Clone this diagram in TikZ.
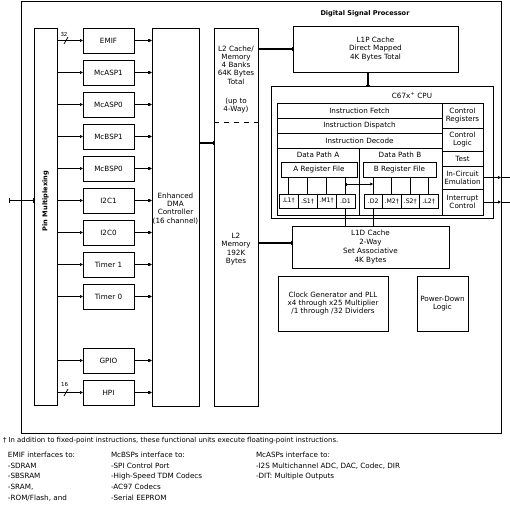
\documentclass[tikz,border=0pt]{standalone}
\usepackage{fontspec}
\setmainfont{DejaVu Sans}
\usetikzlibrary{arrows.meta,calc}
\begin{document}
\begin{tikzpicture}[x=1pt,y=-1pt,
    every node/.style={font=\fontsize{7.2}{8.3}\selectfont},
    blk/.style={draw,line width=0.8pt,inner sep=0pt,outer sep=0pt,align=center},
    txt/.style={inner sep=0pt,outer sep=0pt,align=center},
    per/.style={blk,minimum width=51pt,minimum height=25pt},
    row/.style={blk,minimum width=165pt,minimum height=15pt},
    ctl/.style={blk,minimum width=41pt},
    fu/.style={blk,minimum height=14pt,font=\fontsize{6.2}{7}\selectfont},
    hdr/.style={txt,font=\fontsize{6.6}{8}\selectfont\bfseries},
    note/.style={txt,anchor=north west,align=left,font=\fontsize{7.2}{10.7}\selectfont},
    wire/.style={line width=0.8pt},
    sig/.style={line width=0.8pt,{Bar[width=3pt]}-{Latex[length=3pt,width=3.5pt]}},
    sigr/.style={line width=0.8pt,-{Bar[width=3pt] Latex[length=3pt,width=3.5pt]}},
    bus/.style={line width=1.6pt,{Bar[width=4.5pt,line width=1pt]}-{Bar[width=4.5pt,line width=1pt]}}
  ]
    \useasboundingbox (0,0) rectangle (510,513);
    \node[blk,minimum width=480pt,minimum height=432pt] (dsp) at (261,217) {};
    \node[hdr] (dsptitle) at (365,14) {Digital Signal Processor};
    \node[blk,minimum width=23pt,minimum height=377pt] (pin) at (45.5,216.5) {};
    \node[hdr,rotate=90] (pintitle) at (45.5,201) {Pin Multiplexing};
    \node[blk,minimum width=47pt,minimum height=378pt] (dma) at (175.5,217) {};
    \node[txt] (dmatxt) at (175.5,208.5) {Enhanced\\DMA\\Controller\\(16 channel)};
    \node[blk,minimum width=44pt,minimum height=378pt] (l2) at (236,217) {};
    \node[txt] (l2top) at (236,65) {L2 Cache/\\Memory\\4 Banks\\64K Bytes\\Total};
    \node[txt] (l2way) at (236,105.5) {(up to\\4-Way)};
    \node[txt] (l2bot) at (236,249) {L2\\Memory\\192K\\Bytes};
    \coordinate (l2cut) at (236,122);
    \draw[wire,dash pattern=on 5pt off 5pt] (l2.west |- l2cut) -- (l2.east |- l2cut);

    \node[per] (emif) at (108.5,40.5) {EMIF};
    \node[per] (mcasp1) at (108.5,72.5) {McASP1};
    \node[per] (mcasp0) at (108.5,104.5) {McASP0};
    \node[per] (mcbsp1) at (108.5,136.5) {McBSP1};
    \node[per] (mcbsp0) at (108.5,168.5) {McBSP0};
    \node[per] (iic1) at (108.5,200.5) {I2C1};
    \node[per] (iic0) at (108.5,232.5) {I2C0};
    \node[per] (tmr1) at (108.5,264.5) {Timer 1};
    \node[per] (tmr0) at (108.5,296.5) {Timer 0};
    \node[per] (gpio) at (108.5,360.5) {GPIO};
    \node[per] (hpi) at (108.5,392.5) {HPI};

    \draw[sig] (emif.west -| pin.east) -- (emif.west);
    \draw[sig] (mcasp1.west -| pin.east) -- (mcasp1.west);
    \draw[sig] (mcasp0.west -| pin.east) -- (mcasp0.west);
    \draw[sig] (mcbsp1.west -| pin.east) -- (mcbsp1.west);
    \draw[sig] (mcbsp0.west -| pin.east) -- (mcbsp0.west);
    \draw[sig] (iic1.west -| pin.east) -- (iic1.west);
    \draw[sig] (iic0.west -| pin.east) -- (iic0.west);
    \draw[sig] (tmr1.west -| pin.east) -- (tmr1.west);
    \draw[sig] (tmr0.west -| pin.east) -- (tmr0.west);
    \draw[sig] (gpio.west -| pin.east) -- (gpio.west);
    \draw[sig] (hpi.west -| pin.east) -- (hpi.west);
    \draw[sigr] (emif.east) -- (emif.east -| dma.west);
    \draw[sigr] (mcasp1.east) -- (mcasp1.east -| dma.west);
    \draw[sigr] (mcasp0.east) -- (mcasp0.east -| dma.west);
    \draw[sigr] (mcbsp1.east) -- (mcbsp1.east -| dma.west);
    \draw[sigr] (mcbsp0.east) -- (mcbsp0.east -| dma.west);
    \draw[sigr] (iic1.east) -- (iic1.east -| dma.west);
    \draw[sigr] (iic0.east) -- (iic0.east -| dma.west);
    \draw[sigr] (tmr1.east) -- (tmr1.east -| dma.west);
    \draw[sigr] (tmr0.east) -- (tmr0.east -| dma.west);
    \draw[sigr] (gpio.east) -- (gpio.east -| dma.west);
    \draw[sigr] (hpi.east) -- (hpi.east -| dma.west);

    \coordinate (emifin) at (emif.west -| pin.east);
    \coordinate (hpiin) at (hpi.west -| pin.east);
    \draw[wire] ($(emifin)+(7,3.5)$) -- ++(4,-7);
    \draw[wire] ($(hpiin)+(7,3.5)$) -- ++(4,-7);
    \node[txt,font=\fontsize{5.5}{6}\selectfont] (w32) at (64,34.5) {32};
    \node[txt,font=\fontsize{5.5}{6}\selectfont] (w16) at (64.5,384.5) {16};

    \coordinate (pinext) at (9,200.5);
    \draw[bus] (pinext) -- (pinext -| pin.west);
    \coordinate (l2in) at ([yshift=74pt]l2.west);
    \draw[bus] (l2in -| dma.east) -- (l2in);

    \node[blk,minimum width=165pt,minimum height=46pt] (l1p) at (375.5,49) {L1P Cache\\Direct Mapped\\4K Bytes Total};
    \draw[bus] (l2.east |- l1p.west) -- (l1p.west);

    \node[blk,minimum width=222pt,minimum height=132pt] (cpu) at (382,152) {};
    \node[txt] (cputitle) at (412,95) {C67x\textsuperscript{+} CPU};
    \coordinate (l1pout) at ([xshift=-7.5pt]l1p.south);
    \draw[bus] (l1pout) -- (l1pout |- cpu.north);
    \node[blk,minimum width=206pt,minimum height=112pt] (core) at (380,159) {};
    \node[row] (fetch) at (359.5,110.5) {Instruction Fetch};
    \node[row] (dispatch) at (359.5,125.5) {Instruction Dispatch};
    \node[row] (decode) at (359.5,140.5) {Instruction Decode};
    \node[blk,minimum width=82.5pt,minimum height=67pt] (dpa) at (318.25,181.5) {};
    \node[blk,minimum width=82.5pt,minimum height=67pt] (dpb) at (400.75,181.5) {};
    \node[txt] (dpatxt) at (318,155) {Data Path A};
    \node[txt] (dpbtxt) at (400,155) {Data Path B};
    \node[blk,minimum width=76pt,minimum height=15pt] (rega) at (319,169.5) {A Register File};
    \node[blk,minimum width=73pt,minimum height=15pt] (regb) at (399.5,169.5) {B Register File};
    \node[fu,minimum width=19pt] (l1) at (288.5,201) {.L1†};
    \node[fu,minimum width=19pt] (s1) at (307.5,201) {.S1†};
    \node[fu,minimum width=19pt] (m1) at (326.5,201) {.M1†};
    \node[fu,minimum width=19pt] (d1) at (345.5,201) {.D1};
    \node[fu,minimum width=18.5pt] (d2) at (373.25,201) {.D2};
    \node[fu,minimum width=18.5pt] (m2) at (391.75,201) {.M2†};
    \node[fu,minimum width=18.5pt] (s2) at (410.25,201) {.S2†};
    \node[fu,minimum width=18.5pt] (l2u) at (428.75,201) {.L2†};
    \draw[wire] (l1.north |- rega.south) -- (l1.north);
    \draw[wire] (s1.north |- rega.south) -- (s1.north);
    \draw[wire] (m1.north |- rega.south) -- (m1.north);
    \draw[wire] (d1.north |- rega.south) -- (d1.north);
    \draw[wire] (d2.north |- regb.south) -- (d2.north);
    \draw[wire] (m2.north |- regb.south) -- (m2.north);
    \draw[wire] (s2.north |- regb.south) -- (s2.north);
    \draw[wire] (l2u.north |- regb.south) -- (l2u.north);
    \coordinate (xa) at ([yshift=10pt]d1.north);
    \draw[sig] (xa) -- (xa -| d2.north);

    \node[ctl,minimum height=25pt] (creg) at (462.5,115.5) {Control\\Registers};
    \node[ctl,minimum height=23pt] (clogic) at (462.5,139.5) {Control\\Logic};
    \node[ctl,minimum height=15pt] (test) at (462.5,158.5) {Test};
    \node[ctl,minimum height=23pt] (ice) at (462.5,177.5) {In-Circuit\\Emulation};
    \node[ctl,minimum height=26pt] (intc) at (462.5,202) {Interrupt\\Control};
    \coordinate (iceout) at (510,177.5);
    \coordinate (intout) at (510,202);
    \draw[sig] (ice.east) -- (ice.east -| dsp.east);
    \draw[wire] (ice.east -| dsp.east) -- (iceout);
    \draw[sig] (intc.east) -- (intc.east -| dsp.east);
    \draw[wire] (intc.east -| dsp.east) -- (intout);

    \node[blk,minimum width=157pt,minimum height=42pt,font=\fontsize{7.2}{9}\selectfont] (l1d) at (370.5,247) {L1D Cache\\2-Way\\Set Associative\\4K Bytes};
    \draw[wire] (d1.south) -- (d1.south |- l1d.north);
    \draw[wire] (d2.south) -- (d2.south |- l1d.north);
    \coordinate (l1din) at ([yshift=4pt]l1d.west);
    \draw[bus] (l1din -| l2.east) -- (l1din);

    \node[blk,minimum width=110pt,minimum height=55pt] (clk) at (333,303.5) {Clock Generator and PLL\\x4 through x25 Multiplier\\/1 through /32 Dividers};
    \node[blk,minimum width=51pt,minimum height=55pt] (pdl) at (442.5,303.5) {Power-Down\\Logic};

    \node[txt,anchor=west,font=\fontsize{6.9}{8}\selectfont] (fnote) at (3,441) {† In addition to fixed-point instructions, these functional units execute floating-point instructions.};
    \node[note] (emifnote) at (8,452) {EMIF interfaces to:\\-SDRAM\\-SBSRAM\\-SRAM,\\-ROM/Flash, and};
    \node[note] (mcbspnote) at (111,452) {McBSPs interface to:\\-SPI Control Port\\-High-Speed TDM Codecs\\-AC97 Codecs\\-Serial EEPROM};
    \node[note] (mcaspnote) at (256,452) {McASPs interface to:\\-I2S Multichannel ADC, DAC, Codec, DIR\\-DIT: Multiple Outputs};
  \end{tikzpicture}
\end{document}
